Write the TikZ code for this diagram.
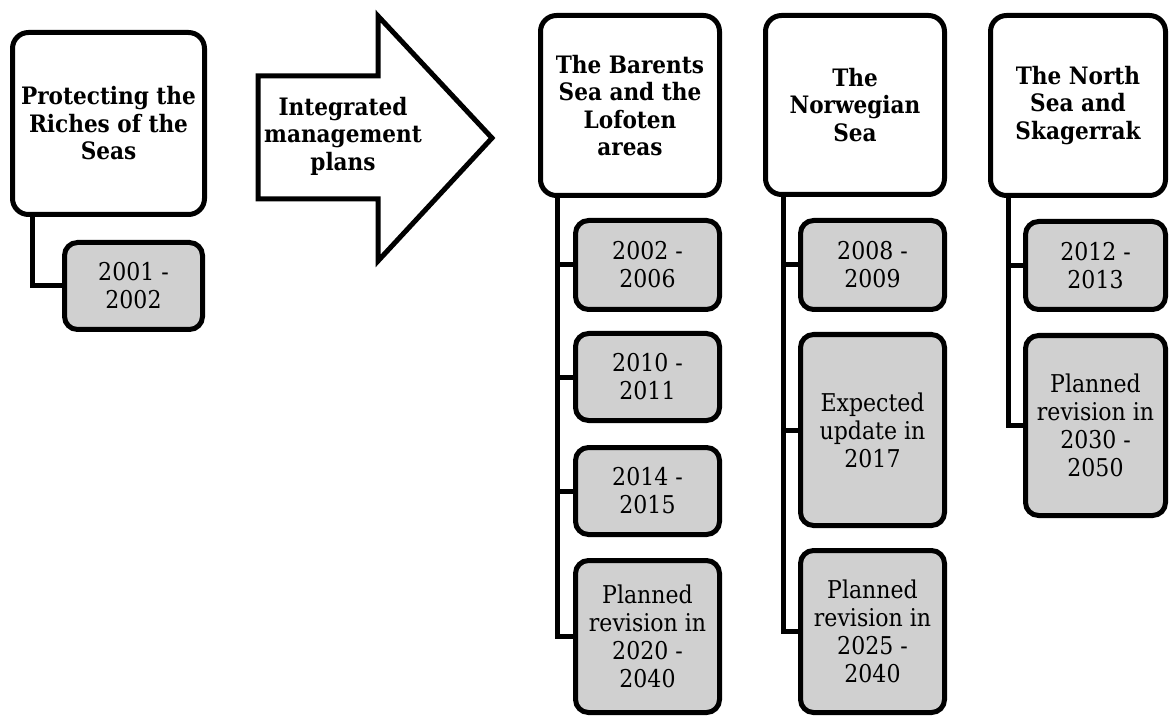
\documentclass[tikz,border=0pt]{standalone}
\usepackage{fontspec}
\setmainfont{DejaVu Serif Condensed}
\definecolor{boxgray}{RGB}{208,208,208}
\begin{document}
\begin{tikzpicture}[x=1pt,y=-1pt,
  headbox/.style={draw=black, line width=5pt, rounded corners=16pt, fill=white,
    align=center, inner sep=0pt, font=\fontsize{24}{27.5}\selectfont\bfseries},
  datebox/.style={draw=black, line width=5pt, rounded corners=13pt, fill=boxgray,
    align=center, inner sep=0pt, font=\fontsize{24.5}{28}\selectfont},
  link/.style={draw=black, line width=5pt},
  bigarrow/.style={draw=black, line width=5pt, fill=white, line join=miter}]
\useasboundingbox (0,0) rectangle (1170,719);

% top ends of the elbow links, just inside each heading box
\coordinate (l0) at (32,214);
\coordinate (l1) at (557,196);
\coordinate (l2) at (783,196);
\coordinate (l3) at (1008,196);

% --- left group
\node[headbox, minimum width=192pt, minimum height=182pt] (b0) at (108.5,123.5)
  {Protecting the\\Riches of the\\Seas};
\node[datebox, minimum width=138pt, minimum height=87pt] (p0) at (133.5,286)
  {2001 -\\2002};

% --- arrow
\draw[bigarrow] (258,76) -- (378,76) -- (378,16) -- (492,138) -- (378,261)
  -- (378,199) -- (258,199) -- cycle;
\node[align=center, font=\fontsize{24}{27.5}\selectfont\bfseries] (arrowtext) at (343,136)
  {Integrated\\management\\plans};

% --- Barents Sea column
\node[headbox, minimum width=179pt, minimum height=180pt] (h1) at (630,105.5)
  {The Barents\\Sea and the\\Lofoten\\areas};
\node[datebox, minimum width=144pt, minimum height=89pt] (s11) at (647.5,265) {2002 -\\2006};
\node[datebox, minimum width=144pt, minimum height=87pt] (s12) at (647.5,377) {2010 -\\2011};
\node[datebox, minimum width=144pt, minimum height=87pt] (s13) at (647.5,491) {2014 -\\2015};
\node[datebox, minimum width=144pt, minimum height=152pt] (s14) at (647.5,636.5)
  {Planned\\revision in\\2020 -\\2040};

% --- Norwegian Sea column
\node[headbox, minimum width=179pt, minimum height=179pt] (h2) at (855,105)
  {The\\Norwegian\\Sea};
\node[datebox, minimum width=144pt, minimum height=89pt] (s21) at (872.5,265) {2008 -\\2009};
\node[datebox, minimum width=144pt, minimum height=191pt] (s22) at (872.5,430)
  {Expected\\update in\\2017};
\node[datebox, minimum width=144pt, minimum height=162pt] (s23) at (872.5,631.5)
  {Planned\\revision in\\2025 -\\2040};

% --- North Sea column
\node[headbox, minimum width=175pt, minimum height=180pt] (h3) at (1078,105.5)
  {The North\\Sea and\\Skagerrak};
\node[datebox, minimum width=140pt, minimum height=88pt] (s31) at (1095.5,265.5) {2012 -\\2013};
\node[datebox, minimum width=140pt, minimum height=180pt] (s32) at (1095.5,425.5)
  {Planned\\revision in\\2030 -\\2050};

% elbow links from each heading down to its entries
\draw[link] (l0) |- (p0.west);
\draw[link] (l1) |- (s11.west);
\draw[link] (l1) |- (s12.west);
\draw[link] (l1) |- (s13.west);
\draw[link] (l1) |- (s14.west);
\draw[link] (l2) |- (s21.west);
\draw[link] (l2) |- (s22.west);
\draw[link] (l2) |- (s23.west);
\draw[link] (l3) |- (s31.west);
\draw[link] (l3) |- (s32.west);
\end{tikzpicture}
\end{document}
